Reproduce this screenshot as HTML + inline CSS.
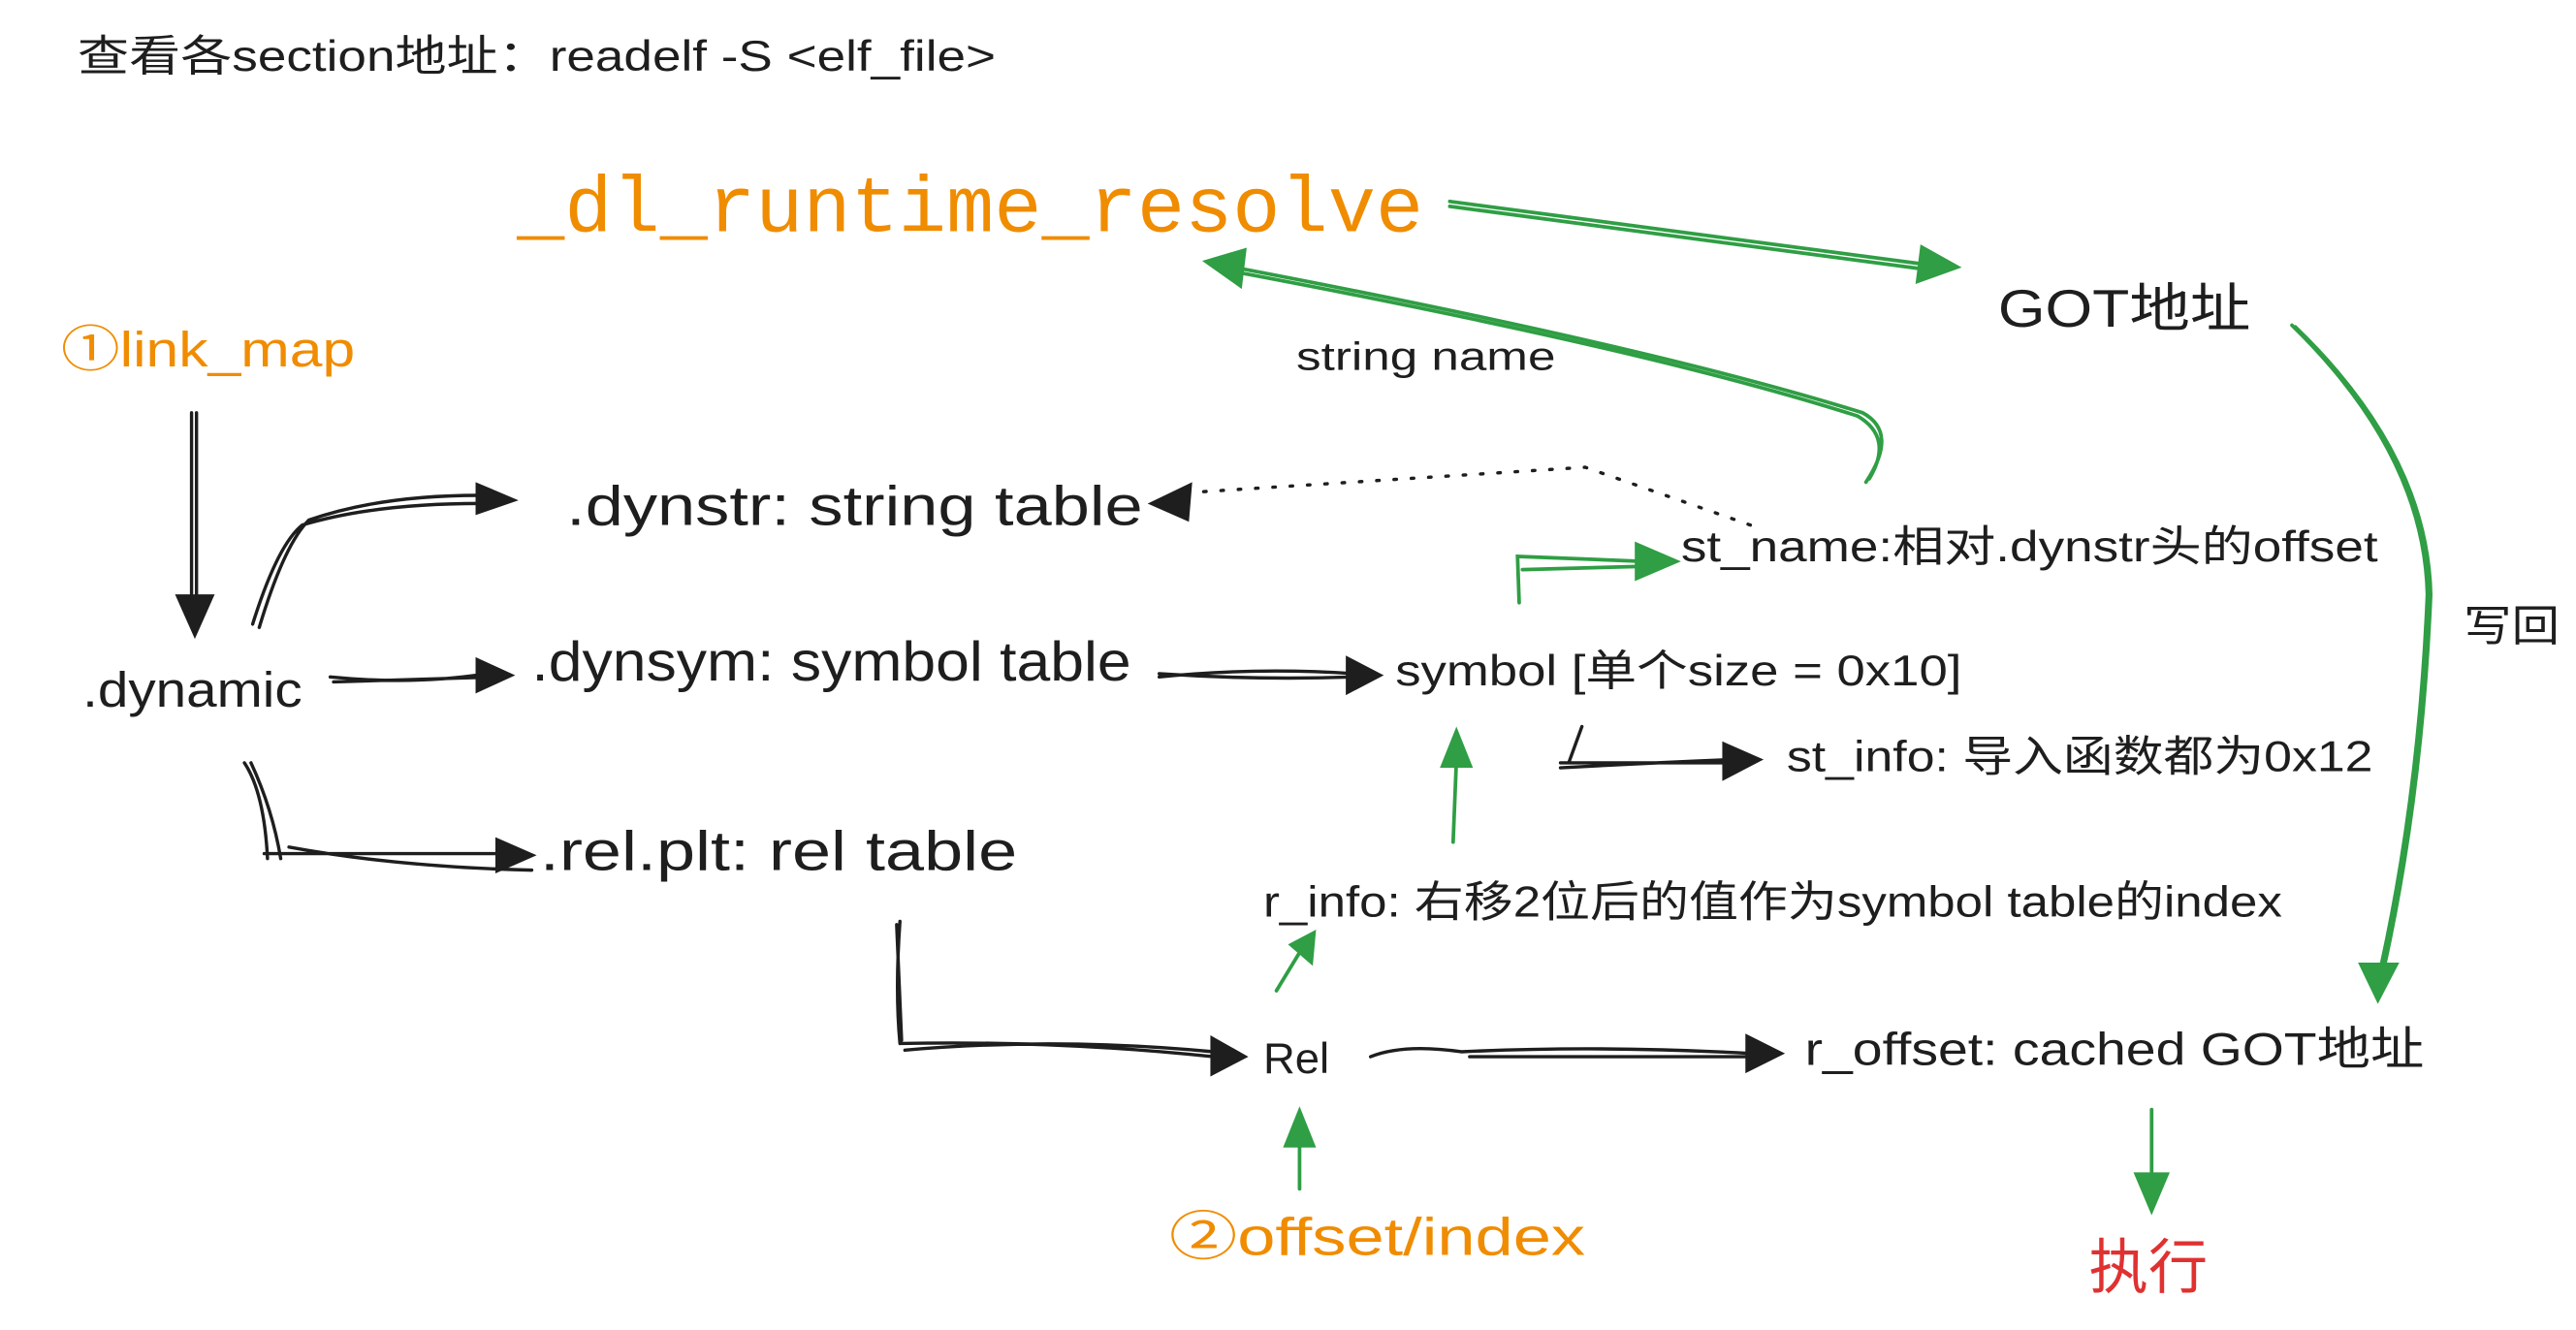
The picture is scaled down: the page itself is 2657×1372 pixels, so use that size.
<!DOCTYPE html>
<html><head><meta charset="utf-8">
<style>
html,body{margin:0;padding:0;background:#fff;}
svg{display:block;}
text{font-family:"Liberation Sans","Noto Sans CJK SC",sans-serif;fill:#1e1e1e;}
.mono{font-family:"Liberation Mono","DejaVu Sans Mono",monospace;fill:#f08c00;}
.or{fill:#f08c00;}
.k{stroke:#1e1e1e;stroke-width:2;fill:none;stroke-linecap:round;}
.g{stroke:#2f9e44;stroke-width:2.2;fill:none;stroke-linecap:round;}
.kh{fill:#1e1e1e;}
.gh{fill:#2f9e44;}
</style></head>
<body>
<svg width="2657" height="1372" viewBox="0 0 1560 805.5" preserveAspectRatio="none" xmlns="http://www.w3.org/2000/svg">
<!-- texts -->
<text x="47" y="43" font-size="26" textLength="556" lengthAdjust="spacingAndGlyphs">查看各section地址：readelf -S &lt;elf_file&gt;</text>
<text class="mono" x="313" y="140" font-size="48" textLength="549" lengthAdjust="spacingAndGlyphs">_dl_runtime_resolve</text>
<text x="1210" y="198" font-size="32" textLength="153" lengthAdjust="spacingAndGlyphs">GOT地址</text>
<text class="or" x="37" y="222" font-size="30" textLength="178" lengthAdjust="spacingAndGlyphs">①link_map</text>
<text x="785" y="224" font-size="24" textLength="157" lengthAdjust="spacingAndGlyphs">string name</text>
<text x="343" y="318" font-size="34" textLength="349" lengthAdjust="spacingAndGlyphs">.dynstr: string table</text>
<text x="1018" y="340" font-size="26" textLength="422" lengthAdjust="spacingAndGlyphs">st_name:相对.dynstr头的offset</text>
<text x="1492" y="388" font-size="26" textLength="58" lengthAdjust="spacingAndGlyphs">写回</text>
<text x="50" y="428" font-size="30" textLength="133" lengthAdjust="spacingAndGlyphs">.dynamic</text>
<text x="322" y="412" font-size="34" textLength="363" lengthAdjust="spacingAndGlyphs">.dynsym: symbol table</text>
<text x="845" y="415" font-size="26" textLength="343" lengthAdjust="spacingAndGlyphs">symbol [单个size = 0x10]</text>
<text x="1082" y="467" font-size="26" textLength="355" lengthAdjust="spacingAndGlyphs">st_info: 导入函数都为0x12</text>
<text x="327" y="527" font-size="34" textLength="289" lengthAdjust="spacingAndGlyphs">.rel.plt: rel table</text>
<text x="765" y="555" font-size="26" textLength="617" lengthAdjust="spacingAndGlyphs">r_info: 右移2位后的值作为symbol table的index</text>
<text x="765" y="650" font-size="26" textLength="40" lengthAdjust="spacingAndGlyphs">Rel</text>
<text x="1093" y="645" font-size="28" textLength="375" lengthAdjust="spacingAndGlyphs">r_offset: cached GOT地址</text>
<text class="or" x="708" y="760" font-size="32" textLength="252" lengthAdjust="spacingAndGlyphs">②offset/index</text>
<text x="1265" y="780" font-size="36" textLength="72" lengthAdjust="spacingAndGlyphs" style="fill:#e03131">执行</text>

<!-- black arrows -->
<path class="k" d="M116 250 L116 370 M119 250 L119 370"/>
<polygon class="kh" points="106,360 130,360 118,387"/>
<path class="k" d="M157 380 Q172 330 187 315 Q230 300 290 300 M153 378 Q168 330 183 318 Q230 304 300 305"/>
<polygon class="kh" points="288,292 288,312 314,303"/>
<path class="k" d="M200 410 Q250 415 295 408 M202 413 L300 410"/>
<polygon class="kh" points="288,398 288,420 312,409"/>
<path class="k" d="M148 462 Q160 480 162 520 M152 462 Q165 490 170 520 M160 517 L300 517 M175 513 Q240 525 322 527"/>
<polygon class="kh" points="300,507 300,529 325,518"/>
<path class="k" d="M702 410 Q760 404 820 408 M702 408 Q760 412 820 410"/>
<polygon class="kh" points="815,397 815,421 838,409"/>
<path class="k" d="M945 465 Q1000 462 1050 460 M945 462 L1050 462 M950 462 L958 440"/>
<polygon class="kh" points="1043,449 1043,473 1068,460"/>
<path class="k" d="M545 558 Q542 600 545 632 M543 560 L546 630 M545 632 Q640 630 735 640 M548 636 Q640 628 735 637"/>
<polygon class="kh" points="733,627 733,652 756,640"/>
<path class="k" d="M830 640 Q850 632 885 637 Q970 633 1060 638 M890 640 L1060 640"/>
<polygon class="kh" points="1057,626 1057,650 1081,638"/>
<path class="k" d="M1060 318 L960 283 L725 298" stroke-dasharray="1.5 9" stroke-width="3"/>
<polygon class="kh" points="722,292 720,316 695,305"/>

<!-- green arrows -->
<path class="g" d="M878 122 L1165 160 M878 125 L1165 163"/>
<polygon class="gh" points="1163,148 1160,172 1188,162"/>
<path class="g" d="M748 162 Q1000 210 1128 250 Q1150 262 1130 292 M750 165 Q1000 212 1125 252 Q1147 265 1132 290"/>
<polygon class="gh" points="728,158 755,150 752,175"/>
<path class="g" d="M1388 197 Q1468 275 1470 360 Q1465 480 1442 585 M1390 198 Q1470 275 1472 360 Q1467 480 1444 585"/>
<polygon class="gh" points="1428,583 1453,583 1440,608"/>
<path class="g" d="M920 365 L919 337 L995 340 M922 345 L995 343"/>
<polygon class="gh" points="990,328 990,352 1018,340"/>
<path class="g" d="M880 510 L882 460"/>
<polygon class="gh" points="872,465 892,465 882,440"/>
<path class="g" d="M773 600 L790 572"/>
<polygon class="gh" points="780,572 797,563 795,585"/>
<path class="g" d="M787 720 L787 690"/>
<polygon class="gh" points="777,695 797,695 787,670"/>
<path class="g" d="M1303 672 L1303 712"/>
<polygon class="gh" points="1292,710 1314,710 1303,736"/>
</svg>
</body></html>
